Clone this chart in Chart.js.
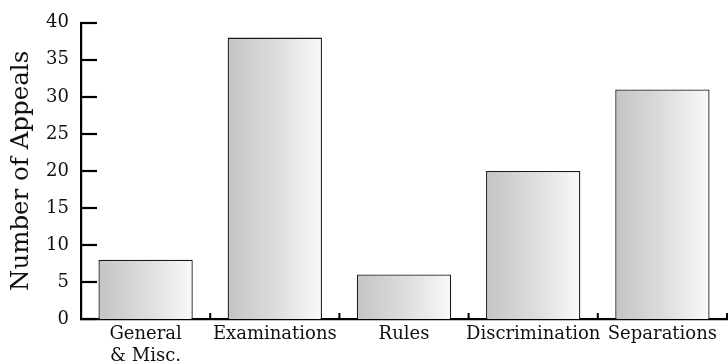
<!DOCTYPE html>
<html>
<head>
<meta charset="utf-8">
<script src="https://cdn.jsdelivr.net/npm/chart.js@4/dist/chart.umd.min.js"></script>
<style>
  html, body { margin: 0; padding: 0; background: #fff; }
  #wrap { width: 728px; height: 364px; position: relative; }
</style>
</head>
<body>
<div id="wrap"><canvas id="c" width="728" height="364"></canvas></div>
<script>
const categories = [["General", "& Misc."], "Examinations", "Rules", "Discrimination", "Separations"];
const appeals = [8, 38, 6, 20, 31];
const yTicks = [0, 5, 10, 15, 20, 25, 30, 35, 40];
const yTitle = "Number of Appeals";

const FONT = "'DejaVu Serif', serif";
const BAR_PCT = 0.73;

function barGradient(ctx) {
  const chart = ctx.chart;
  const xs = chart.scales && chart.scales.x;
  if (!xs || !chart.chartArea) return '#dddddd';
  const cx = xs.getPixelForValue(ctx.dataIndex);
  const catW = (chart.chartArea.right - chart.chartArea.left) / categories.length;
  const w = catW * BAR_PCT;
  const g = chart.ctx.createLinearGradient(cx - w / 2, 0, cx + w / 2, 0);
  g.addColorStop(0, '#c4c4c4');
  g.addColorStop(0.5, '#dcdcdc');
  g.addColorStop(1, '#f9f9f9');
  return g;
}

const innerTicks = {
  id: 'innerTicks',
  afterDraw(chart) {
    const { ctx, chartArea, scales } = chart;
    ctx.save();
    ctx.strokeStyle = '#000';
    ctx.lineWidth = 2.2;
    yTicks.forEach(v => {
      const y = Math.round(scales.y.getPixelForValue(v));
      ctx.beginPath();
      ctx.moveTo(chartArea.left, y);
      ctx.lineTo(chartArea.left + 16, y);
      ctx.stroke();
    });
    ctx.lineWidth = 2;
    const catW = (chartArea.right - chartArea.left) / categories.length;
    for (let i = 0; i < categories.length; i++) {
      const x = scales.x.getPixelForValue(i) + catW / 2;
      ctx.beginPath();
      ctx.moveTo(x, chartArea.bottom);
      ctx.lineTo(x, chartArea.bottom - 6);
      ctx.stroke();
    }
    ctx.restore();
  }
};

new Chart(document.getElementById('c'), {
  type: 'bar',
  data: {
    labels: categories,
    datasets: [{
      data: appeals,
      backgroundColor: barGradient,
      borderColor: '#1a1a1a',
      borderWidth: 1.3,
      borderSkipped: 'start',
      barPercentage: BAR_PCT,
      categoryPercentage: 1.0
    }]
  },
  options: {
    responsive: false,
    animation: false,
    devicePixelRatio: 1,
    layout: { padding: { top: 11, right: 1, left: 0, bottom: 0 } },
    plugins: { legend: { display: false }, tooltip: { enabled: false } },
    scales: {
      x: {
        offset: true,
        grid: { display: false, drawTicks: false },
        border: { display: true, color: '#000', width: 2.2 },
        ticks: { color: '#111', font: { family: FONT, size: 18 }, padding: 5, maxRotation: 0, autoSkip: false },
        afterFit(scale) { scale.height = 45; }
      },
      y: {
        min: 0, max: 40,
        afterBuildTicks(scale) { scale.ticks = yTicks.map(v => ({ value: v })); },
        grid: { display: false, drawTicks: false },
        border: { display: true, color: '#000', width: 2.2 },
        ticks: { color: '#111', font: { family: FONT, size: 18 }, padding: 12 },
        title: { display: true, text: yTitle, color: '#111', font: { family: FONT, size: 24.5 }, padding: { top: 7, bottom: 0 } },
        afterFit(scale) { scale.width = 81; }
      }
    }
  },
  plugins: [innerTicks]
});
</script>
</body>
</html>
